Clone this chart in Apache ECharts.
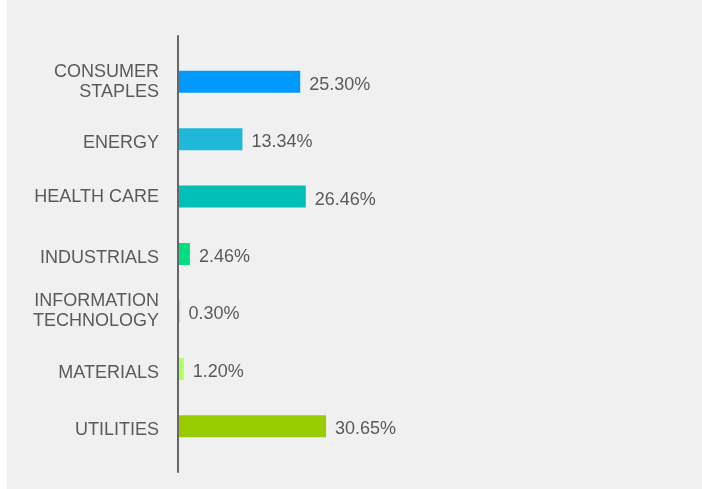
<!DOCTYPE html>
<html>
<head>
<meta charset="utf-8">
<script src="https://cdn.jsdelivr.net/npm/echarts@6/dist/echarts.min.js"></script>
<style>
    html, body { margin: 0; padding: 0; background: #ffffff; }
    #chart { position: absolute; left: 7px; top: 0; width: 695px; height: 489px; background: #f0f0f0; }
</style>
</head>
<body>
<div id="chart"></div>
<script>
    // sector weights, in %
    var sectors = ['CONSUMER\nSTAPLES', 'ENERGY', 'HEALTH CARE', 'INDUSTRIALS', 'INFORMATION\nTECHNOLOGY', 'MATERIALS', 'UTILITIES'];
    var weights = [25.30, 13.34, 26.46, 2.46, 0.30, 1.20, 30.65];
    var barColors = ['#0099ff', '#1fb8d9', '#00c0b8', '#00dc80', '#55dd66', '#b0ff60', '#99cc00'];
    // labels that sit a little lower in the original
    var lowered = ['ENERGY', 'INDUSTRIALS', 'MATERIALS', 'UTILITIES'];

    var chart = echarts.init(document.getElementById('chart'));

    var labelFont = { color: '#5a5a5a', fontSize: 18, lineHeight: 20, fontFamily: '"Liberation Sans", Arial, sans-serif' };

    var option = {
        animation: false,
        textStyle: { fontFamily: '"Liberation Sans", Arial, sans-serif' },
        grid: [
            { left: 171, top: 53, bottom: 34, width: 483 },
            // taller grid only used to draw the long vertical axis line
            { left: 171, top: 36, bottom: 17, width: 483 }
        ],
        xAxis: [
            { type: 'value', min: 0, max: 100, show: false, gridIndex: 0 },
            { type: 'value', min: 0, max: 100, show: false, gridIndex: 1 }
        ],
        yAxis: [
            {
                type: 'category',
                gridIndex: 0,
                data: sectors,
                inverse: true,
                axisLine: { show: false },
                axisTick: { show: false },
                axisLabel: {
                    margin: 19,
                    color: '#5a5a5a',
                    fontSize: 18,
                    lineHeight: 20,
                    align: 'right',
                    formatter: function (v) {
                        return lowered.indexOf(v) >= 0 ? '{low|' + v + '}' : v;
                    },
                    rich: {
                        low: Object.assign({ padding: [8, 0, 0, 0] }, labelFont)
                    }
                }
            },
            {
                type: 'value',
                gridIndex: 1,
                z: 5,
                axisLine: { show: true, lineStyle: { color: '#666666', width: 2 } },
                axisTick: { show: false },
                axisLabel: { show: false },
                splitLine: { show: false }
            }
        ],
        series: [
            {
                type: 'bar',
                xAxisIndex: 0,
                yAxisIndex: 0,
                z: 1,
                barWidth: 22,
                data: weights.map(function (v, i) {
                    return { value: v, itemStyle: { color: barColors[i] } };
                }),
                label: {
                    show: true,
                    position: 'right',
                    distance: 9,
                    offset: [0, 3],
                    color: '#5a5a5a',
                    fontSize: 18,
                    formatter: function (p) { return p.value.toFixed(2) + '%'; }
                }
            }
        ]
    };

    chart.setOption(option);
</script>
</body>
</html>
